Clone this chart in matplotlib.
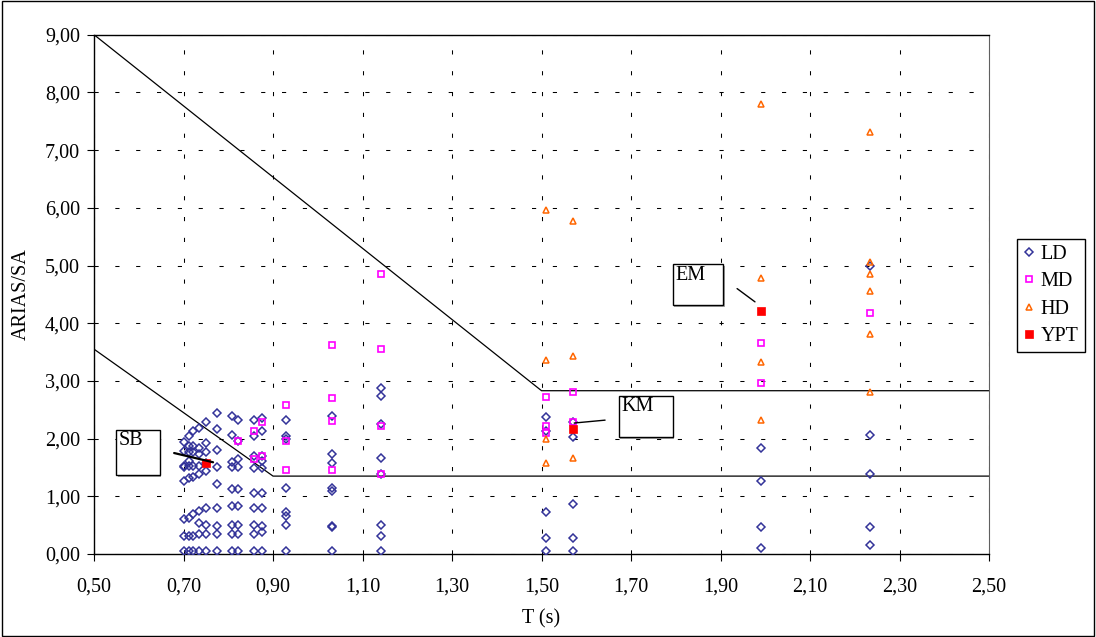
import matplotlib
matplotlib.use('Agg')
import matplotlib.pyplot as plt
import matplotlib.patheffects as pe
from matplotlib.patches import Rectangle
from matplotlib.ticker import FuncFormatter
import numpy as np

plt.rcParams['font.family'] = ['Liberation Serif', 'DejaVu Serif']

# --- data ------------------------------------------------------------------
# LD points, listed period by period
ld_t = ([0.700] * 8 + [0.712] * 9 + [0.722] * 8 + [0.735] * 9 + [0.750] * 9
        + [0.774] * 9 + [0.808] * 9 + [0.821] * 9 + [0.858] * 9 + [0.875] * 10
        + [0.928] * 8 + [1.032] * 8 + [1.141] * 8 + [1.510] * 5 + [1.570] * 5
        + [1.990] * 4 + [2.234] * 5)
ld_y = [1.94, 1.79, 1.53, 1.50, 1.27, 0.60, 0.31, 0.05,
        2.05, 1.87, 1.76, 1.61, 1.53, 1.31, 0.63, 0.31, 0.05,
        2.13, 1.87, 1.76, 1.53, 1.33, 0.69, 0.31, 0.05,
        2.19, 1.83, 1.73, 1.53, 1.38, 0.75, 0.54, 0.34, 0.05,
        2.28, 1.93, 1.76, 1.58, 1.44, 0.80, 0.51, 0.34, 0.05,
        2.45, 2.16, 1.80, 1.50, 1.21, 0.80, 0.49, 0.34, 0.05,
        2.39, 2.06, 1.60, 1.50, 1.12, 0.83, 0.51, 0.34, 0.05,
        2.33, 1.95, 1.64, 1.50, 1.12, 0.83, 0.51, 0.34, 0.05,
        2.32, 2.05, 1.70, 1.49, 1.06, 0.80, 0.51, 0.34, 0.05,
        2.36, 2.14, 1.70, 1.61, 1.49, 1.06, 0.80, 0.49, 0.38, 0.05,
        2.33, 2.05, 1.99, 1.15, 0.72, 0.66, 0.50, 0.05,
        2.39, 1.74, 1.57, 1.15, 1.09, 0.49, 0.46, 0.05,
        2.88, 2.74, 2.26, 1.67, 1.38, 0.50, 0.31, 0.05,
        2.38, 2.14, 0.73, 0.28, 0.05,
        2.28, 2.02, 0.86, 0.28, 0.05,
        1.83, 1.27, 0.46, 0.11,
        4.99, 2.06, 1.38, 0.47, 0.16]

md_t = ([0.821] + [0.858] * 2 + [0.875] * 2 + [0.928] * 3 + [1.032] * 4
        + [1.141] * 4 + [1.510] * 3 + [1.570] * 2 + [1.990] * 2 + [2.234])
md_y = [1.95, 2.13, 1.64, 2.28, 1.69, 2.59, 1.96, 1.45,
        3.63, 2.70, 2.31, 1.45, 4.85, 3.55, 2.22, 1.38,
        2.72, 2.22, 2.10, 2.81, 2.28, 3.65, 2.96, 4.17]

hd_t = [1.510] * 4 + [1.570] * 3 + [1.990] * 4 + [2.234] * 6
hd_y = [5.96, 3.37, 1.99, 1.58, 5.78, 3.44, 1.67,
        7.80, 4.78, 3.32, 2.32, 7.32, 5.06, 4.85, 4.55, 3.81, 2.80]

ypt_names = ['SB', 'KM', 'EM']
ypt_t = [0.750, 1.570, 1.990]
ypt_y = [1.57, 2.17, 4.21]

# boundary lines
upper_t = [0.5, 1.5, 2.5]
upper_y = [9.0, 2.83, 2.83]
lower_t = [0.5, 0.9, 2.5]
lower_y = [3.55, 1.35, 1.35]

x_ticks = np.arange(0.5, 2.501, 0.2)
y_ticks = np.arange(0, 9.01, 1.0)

# --- figure -----------------------------------------------------------------
fig = plt.figure(figsize=(10.96, 6.37), dpi=100)
ax = fig.add_axes([0.0858, 0.1303, 0.8166, 0.8152])
fs = 14.5

ax.set_xlim(0.5, 2.5)
ax.set_ylim(0, 9)
ax.set_xticks(x_ticks)
ax.set_yticks(y_ticks)
comma = FuncFormatter(lambda v, p: f'{v:.2f}'.replace('.', ','))
ax.xaxis.set_major_formatter(comma)
ax.yaxis.set_major_formatter(comma)
ax.tick_params(direction='out', length=5, width=0.8, labelsize=fs, pad=5,
               colors='black')
ax.tick_params(axis='x', pad=12)
ax.set_axisbelow(True)
ax.grid(True, color='black', linestyle=(0, (4, 16)), linewidth=0.75)
for side in ['left', 'bottom', 'top']:
    ax.spines[side].set_color('black')
    ax.spines[side].set_linewidth(1.0)
ax.spines['right'].set_color('#606060')

ax.plot(upper_t, upper_y, color='black', lw=0.9, zorder=2)
ax.plot(lower_t, lower_y, color='black', lw=0.9, zorder=2)

ax.plot(ld_t, ld_y, ls='none', marker='D', ms=4.0, mfc='none', mec='#333399',
        mew=1.1, label='LD', zorder=3)
ax.plot(md_t, md_y, ls='none', marker='s', ms=4.6, mfc='none', mec='#FF00FF',
        mew=1.2, label='MD', zorder=3)
ax.plot(hd_t, hd_y, ls='none', marker='^', ms=4.8, mfc='none', mec='#FF6600',
        mew=1.1, label='HD', zorder=3)
ax.plot(ypt_t, ypt_y, ls='none', marker='s', ms=6, mfc='#FF0000', mec='#FF0000',
        mew=0.5, label='YPT', zorder=4)

# callout boxes (x0, x1, y0, y1) and leader lines (start -> end)
boxes = {'SB': (0.549, 0.647, 1.37, 2.15),
         'KM': (1.672, 1.793, 2.02, 2.74),
         'EM': (1.793, 1.906, 4.31, 5.02)}
leaders = {'SB': ((0.679, 1.75), (0.766, 1.59), 1.6),
           'KM': ((1.573, 2.27), (1.642, 2.32), 1.0),
           'EM': ((1.937, 4.60), (1.977, 4.37), 1.0)}
shadow = [pe.SimplePatchShadow(offset=(1.2, -1.2), shadow_rgbFace='gray',
                               alpha=0.7), pe.Normal()]
for name in ypt_names:
    x0, x1, y0, y1 = boxes[name]
    r = Rectangle((x0, y0), x1 - x0, y1 - y0, fc='white', ec='black', lw=1.0,
                  zorder=5)
    r.set_path_effects(shadow)
    ax.add_patch(r)
    ax.annotate(name, xy=(x0, y1), xytext=(2, -1), textcoords='offset points',
                ha='left', va='top', fontsize=fs, zorder=6)
    (sx, sy), (ex, ey), lw = leaders[name]
    ax.annotate('', xy=(ex, ey), xytext=(sx, sy),
                arrowprops=dict(arrowstyle='-', lw=lw, color='black',
                                shrinkA=0, shrinkB=0), zorder=5)

ax.set_xlabel('T (s)', fontsize=fs, labelpad=9)
ax.set_ylabel('ARIAS/SA', fontsize=fs, labelpad=10)

leg = ax.legend(loc='center left', bbox_to_anchor=(1016.7 / 1096, 1 - 295.5 / 637),
                bbox_transform=fig.transFigure, fontsize=fs, frameon=True,
                fancybox=False, edgecolor='black', framealpha=1, numpoints=1,
                handlelength=0.6, handletextpad=0.3, borderpad=0.3,
                labelspacing=0.42, borderaxespad=0)
leg.get_frame().set_linewidth(1.0)

fig.patches.append(Rectangle((0.0015, 0.002), 0.997, 0.996,
                             transform=fig.transFigure, fill=False,
                             ec='black', lw=1.0))

fig.savefig('out.png', dpi=100)
